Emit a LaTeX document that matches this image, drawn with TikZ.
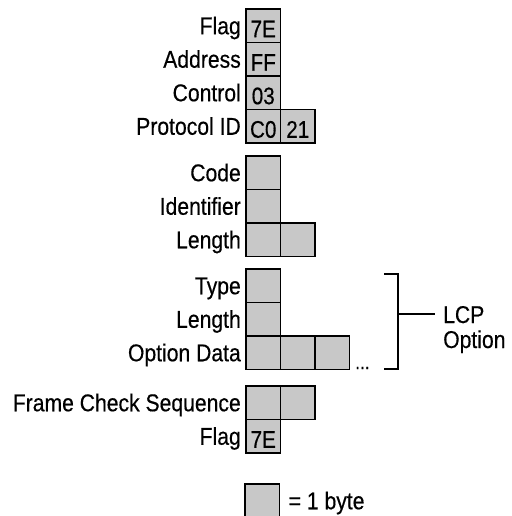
\documentclass[tikz,border=0pt]{standalone}
\usepackage{fontspec}
\setmainfont[FakeStretch=0.87, FakeBold=0.4]{Liberation Sans}
\newfontfamily\bytefont[FakeStretch=0.86, FakeBold=0.4]{Liberation Sans}
\usepackage{tikz}
\usetikzlibrary{positioning}
\definecolor{bytegray}{RGB}{200, 200, 200}

\begin{document}
\begin{tikzpicture}[
  x=1pt, y=-1pt,
  node distance=0pt,
  byte/.style={rectangle, draw=black, fill=bytegray, line width=1.2pt,
               minimum width=34.5pt, minimum height=33.5pt, inner sep=0pt,
               outer sep=0pt, text height=23pt, text depth=0pt,
               font=\bytefont\fontsize{24}{25}\selectfont},
  field/.style={inner sep=0pt, text height=17pt, text depth=0pt,
               font=\fontsize{24.3}{25}\selectfont},
  note/.style={inner sep=0pt, font=\fontsize{24.3}{25}\selectfont},
  brace/.style={line width=1.2pt},
]
  \useasboundingbox (0,0) rectangle (511,516);

  % Header
  \node[byte, anchor=north west] (flag) at (246,9) {7E};
  \node[byte, below=of flag] (addr) {FF};
  \node[byte, below=of addr] (ctrl) {03};
  \node[byte, below=of ctrl] (protoa) {C0};
  \node[byte, right=of protoa] (protob) {21};
  \node[field, left=5pt of flag] (flagl) {Flag};
  \node[field, left=5pt of addr] (addrl) {Address};
  \node[field, left=5pt of ctrl] (ctrll) {Control};
  \node[field, left=5pt of protoa] (protol) {Protocol ID};

  % LCP packet
  \node[byte, anchor=north west] (code) at (246,156) {};
  \node[byte, below=of code] (ident) {};
  \node[byte, below=of ident] (lena) {};
  \node[byte, right=of lena] (lenb) {};
  \node[field, left=5pt of code] (codel) {Code};
  \node[field, left=5pt of ident] (identl) {Identifier};
  \node[field, left=5pt of lena] (lenl) {Length};

  % LCP option
  \node[byte, anchor=north west] (type) at (246,269) {};
  \node[byte, below=of type] (olen) {};
  \node[byte, below=of olen] (data) {};
  \node[byte, right=of data] (datab) {};
  \node[byte, right=of datab] (datac) {};
  \node[note, anchor=base west, font=\fontsize{20}{20}\selectfont] (dots) at (355,369) {...};
  \node[field, left=5pt of type] (typel) {Type};
  \node[field, left=5pt of olen] (olenl) {Length};
  \node[field, left=5pt of data] (datal) {Option Data};

  % Trailer
  \node[byte, anchor=north west] (fcsa) at (246,386) {};
  \node[byte, right=of fcsa] (fcsb) {};
  \node[byte, below=of fcsa] (endflag) {7E};
  \node[field, left=5pt of fcsa] (fcsl) {Frame Check Sequence};
  \node[field, left=5pt of endflag] (endflagl) {Flag};

  % Bracket
  \coordinate (brtop) at (384,274);
  \coordinate (brbot) at (384,369);
  \coordinate (brmid) at (398,314);
  \node[note, anchor=base west] (lcp) at (443,323) {LCP};
  \node[note, anchor=base west] (lcpopt) at (443,348) {Option};
  \draw[brace] (brtop) -- (brtop -| brmid) -- (brbot -| brmid) -- (brbot);
  \draw[brace] (brmid) -- ([xshift=-8pt]lcp.west |- brmid);

  % Legend
  \node[byte, anchor=north west] (key) at (245,484) {};
  \node[field, right=9pt of key] (keyl) {= 1 byte};
\end{tikzpicture}
\end{document}
